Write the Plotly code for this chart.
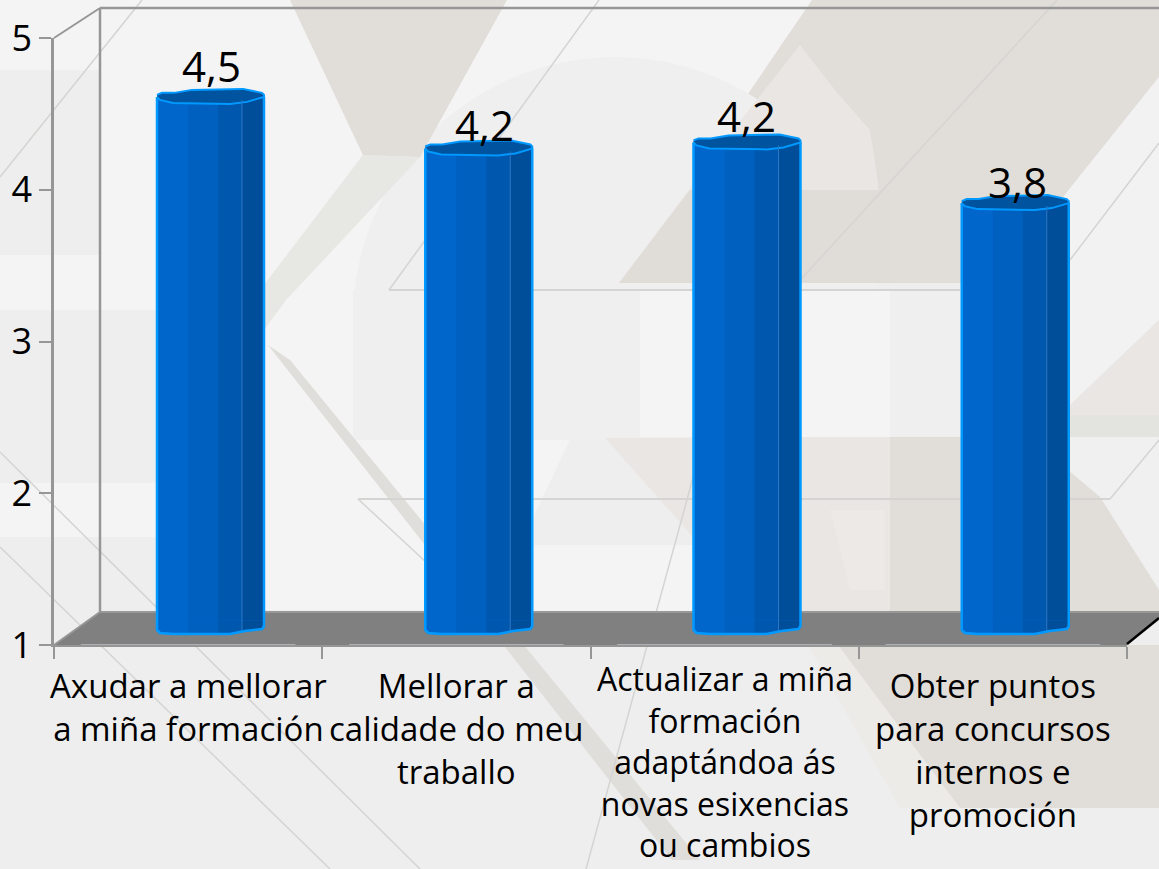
import numpy as np
import plotly.graph_objects as go

# ---- data ----
categories = [
    ["Axudar a mellorar", "a miña formación"],
    ["Mellorar a", "calidade do meu", "traballo"],
    ["Actualizar a miña", "formación", "adaptándoa ás", "novas esixencias", "ou cambios"],
    ["Obter puntos", "para concursos", "internos e", "promoción"],
]
values = [4.5, 4.16, 4.2, 3.8]
value_labels = ["4,5", "4,2", "4,2", "3,8"]
y_ticks = [1, 2, 3, 4, 5]

# ---- canvas geometry (style, not data) ----
W, H = 1159, 869
X0, X1 = 54, 1127          # front plane of the x axis
Y1, Y5 = 645, 38           # front plane of the y axis
BY1, BY5 = 628, 21         # plane on which the bars stand
CAT = (X1 - X0) / 4
UNIT = (Y1 - Y5) / 4


def fx(x):
    return x / W


def fy(y):
    return 1 - y / H


def poly(points, fill, line=None, lw=0, layer="below"):
    path = "M" + " L".join(f"{fx(x):.5f},{fy(y):.5f}" for x, y in points) + " Z"
    return dict(type="path", xref="paper", yref="paper", path=path, fillcolor=fill,
                line=dict(color=line or fill, width=lw), layer=layer)


def seg(x0, y0, x1, y1, color, width=1.5, layer="below"):
    return dict(type="line", xref="paper", yref="paper", x0=fx(x0), y0=fy(y0), x1=fx(x1), y1=fy(y1),
                line=dict(color=color, width=width), layer=layer)


def rect(x0, y0, x1, y1, fill):
    return poly([(x0, y0), (x1, y0), (x1, y1), (x0, y1)], fill)


BEIGE = "#e1ddd9"
SOFT = "#e9e6e3"
LIGHT = "#f4f4f4"
BASE = "#eeeeee"
MID = "#efefef"
THIN = "#d4d4d2"

shapes = [
    # horizontal light bands
    rect(0, 0, 1159, 70, LIGHT),
    rect(0, 255, 360, 310, LIGHT),
    rect(0, 483, 300, 537, LIGHT),
    # big light diamond behind the first bars
    poly([(100, 0), (290, 0), (363, 155), (262, 310), (100, 310)], LIGHT),
    # light strip
    poly([(507, 0), (822, 0), (640, 290), (490, 610), (264, 610), (264, 300)], LIGHT),
    # beige, top right
    poly([(812, 0), (1159, 0), (1159, 77), (1063, 197), (1000, 283), (619, 283)], BEIGE),
    # ring and what lies inside it
    poly([(615 + 262 * np.cos(a), 319 - 262 * np.sin(a)) for a in np.linspace(0, np.pi, 40)], MID),
    poly([(619, 283), (745, 115), (800, 45), (835, 90), (870, 130), (877, 175), (890, 283)], SOFT),
    poly([(619, 283), (690, 190), (890, 190), (890, 283)], "#e0dcd8"),
    # beige wedge, top centre, and the narrow strip that continues it
    poly([(290, 0), (507, 0), (420, 157), (363, 155)], BEIGE),
    poly([(363, 155), (420, 157), (286, 300), (264, 330), (264, 285)], "#e7e7e3"),
    # middle band
    rect(353, 290, 640, 440, MID),
    rect(640, 290, 890, 437, LIGHT),
    rect(890, 290, 965, 437, MID),
    poly([(1063, 197), (1159, 77), (1159, 320), (1070, 405)], "#f2f2f2"),
    poly([(1070, 405), (1159, 320), (1159, 415), (1070, 415)], SOFT),
    rect(1070, 415, 1159, 437, "#e3e4df"),
    # lower centre and right
    rect(534, 545, 693, 612, LIGHT),
    poly([(605, 438), (800, 438), (800, 612), (760, 612)], SOFT),
    rect(800, 437, 890, 612, SOFT),
    rect(890, 437, 1159, 612, BEIGE),
    poly([(830, 510), (885, 510), (885, 590), (850, 590)], "#ece9e6"),
    poly([(1068, 437), (1159, 437), (1159, 590), (1100, 497), (1068, 470)], "#f0f0f0"),
    # below the floor, right
    poly([(808, 645), (840, 645), (960, 808), (900, 808)], "#ecebe8"),
    poly([(838, 645), (1159, 645), (1159, 808), (960, 808)], BEIGE),
    # diagonal strip
    poly([(268, 345), (290, 360), (700, 860), (672, 860)], "#dfdeda"),
    # thin decorative lines
    seg(599, 0, 389, 290, THIN),
    seg(389, 290, 960, 290, THIN, 2),
    seg(1057, 0, 803, 277, THIN),
    seg(803, 277, 760, 340, THIN),
    seg(1159, 143, 1070, 260, THIN),
    seg(358, 499, 1110, 499, THIN, 2),
    seg(358, 499, 427, 563, THIN),
    seg(1110, 499, 1159, 440, THIN),
    seg(142, 0, 0, 177, THIN),
    seg(0, 452, 420, 869, THIN),
    seg(0, 547, 330, 869, THIN),
    seg(697, 463, 586, 869, THIN),
    # floor and walls
    poly([(54, 645), (100, 612), (1159, 612), (1159, 620), (1127, 645)], "#808080"),
    seg(100, 612, 1159, 612, "#989898", 2),
    seg(54, 645, 100, 612, "#969696", 2),
    seg(100, 8, 100, 612, "#969696", 2.5),
    seg(100, 8, 1159, 8, "#969696", 2.5),
    seg(54, 38, 100, 8, "#969696", 2),
    seg(1127, 644, 1159, 618, "#000000", 2.5, "above"),
]

STRIPES = [(0, "#0066cc"), (31, "#0060bf"), (61, "#0057ae"), (85, "#004d99")]
BAR_RIGHT = 107
BAR_LEFT = 157 - (X0 + CAT / 2)
LID_UPPER = [(0, -2), (5, -4), (17, -4), (35, -7), (86, -8), (105, -4), (107, -2)]
LID_LOWER = [(107, 0), (90, 5), (73, 7), (16, 6), (3, 3), (0, 0)]
FOOT = [(0, 2), (3, 5), (16, 6), (73, 6), (88, 3), (105, 1), (107, -2)]


def dx(px):
    return (BAR_LEFT + px) / CAT


def dv(py):
    return -py / UNIT


fig = go.Figure()

# hidden trace that gives the category axis its four slots and tick marks
fig.add_trace(go.Bar(x=[" ".join(c) for c in categories], y=[0, 0, 0, 0], base=1,
                     marker_color="rgba(0,0,0,0)", xaxis="x", yaxis="y", hoverinfo="skip"))

xpos = list(range(len(values)))
for a, col in STRIPES:
    # each stripe runs to the right edge, the next one paints over it: no seams
    fig.add_trace(go.Bar(x=xpos, y=[v - 1 for v in values], base=1, width=(BAR_RIGHT - a) / CAT, offset=dx(a),
                         marker=dict(color=col, line_width=0), xaxis="x2", yaxis="y2", hoverinfo="skip"))
    foot = [(a, float(np.interp(a, [p[0] for p in FOOT], [p[1] for p in FOOT])))] + [p for p in FOOT if p[0] > a]
    xs, ys = [], []
    for i in xpos:
        xs += [i + dx(a)] + [i + dx(p[0]) for p in foot] + [i + dx(BAR_RIGHT), None]
        ys += [1.05] + [1 + dv(p[1]) for p in foot] + [1.05, None]
    fig.add_trace(go.Scatter(x=xs, y=ys, mode="lines", fill="toself", fillcolor=col, line=dict(width=0, color=col),
                             xaxis="x2", yaxis="y2", hoverinfo="skip"))

# lid, outline and edge, all derived from the values
for i, v in enumerate(values):
    lid = LID_UPPER + LID_LOWER
    fig.add_trace(go.Scatter(x=[i + dx(p[0]) for p in lid], y=[v + dv(p[1]) for p in lid], mode="lines",
                             fill="toself", fillcolor="#00539f", line=dict(color="#0099ff", width=2),
                             xaxis="x2", yaxis="y2", hoverinfo="skip"))
    fig.add_trace(go.Scatter(x=[i + dx(85), i + dx(85)], y=[1 + dv(3), v + dv(3)], mode="lines",
                             line=dict(color="#2d78c6", width=1), xaxis="x2", yaxis="y2", hoverinfo="skip"))
    ox = [dx(0)] + [dx(p[0]) for p in FOOT] + [dx(BAR_RIGHT)]
    oy = [v] + [1 + dv(p[1]) for p in FOOT] + [v]
    fig.add_trace(go.Scatter(x=[i + q for q in ox], y=oy, mode="lines", line=dict(color="#0099ff", width=2.5),
                             xaxis="x2", yaxis="y2", hoverinfo="skip"))

annotations = []
label_shift = [(54, 31), (59, 24), (53, 27), (56, 22)]
label_font = dict(family="Open Sans", size=42, color="#000000")
for i, (v, t) in enumerate(zip(values, value_labels)):
    annotations.append(dict(text=t, xref="x2", yref="y2", x=i + dx(label_shift[i][0]), y=v,
                            yshift=label_shift[i][1], showarrow=False, font=label_font,
                            xanchor="center", yanchor="middle"))

# one text block per category; 33 px gives the 43 px line pitch, the five-line block is a touch smaller to fit the page
for i, lines in enumerate(categories):
    five = len(lines) >= 5
    annotations.append(dict(text="<br>".join(lines), xref="x2", yref="y", x=i, y=1, yshift=Y1 - (655 if five else 661),
                            showarrow=False, align="center", xanchor="center", yanchor="top",
                            font=dict(family="Open Sans", size=32 if five else 33, color="#000000")))

fig.update_layout(
    width=W, height=H, margin=dict(l=0, r=0, t=0, b=0, pad=0, autoexpand=False), showlegend=False, barmode="overlay",
    paper_bgcolor=BASE, plot_bgcolor="rgba(0,0,0,0)", hovermode=False,
    shapes=shapes, annotations=annotations,
    xaxis=dict(domain=[fx(X0), fx(X1)], type="category", range=[-0.5, 3.5], tickson="boundaries", ticks="outside",
               ticklen=12, tickwidth=2, tickcolor="#969696", showticklabels=False, showgrid=False, zeroline=False,
               showline=True, linecolor="#969696", linewidth=2, anchor="y", fixedrange=True, automargin=False),
    yaxis=dict(domain=[fy(Y1), fy(Y5)], range=[1, 5], tickvals=y_ticks, ticks="outside", ticklen=12, tickwidth=2,
               tickcolor="#969696", showgrid=False, zeroline=False, showline=True, linecolor="#969696", linewidth=2.5,
               tickfont=dict(family="Open Sans", size=36, color="#000000"), anchor="x", fixedrange=True, automargin=False),
    xaxis2=dict(domain=[fx(X0), fx(X1)], range=[-0.5, 3.5], visible=False, anchor="y2", fixedrange=True, automargin=False),
    yaxis2=dict(domain=[fy(Y1), fy(BY5)], range=[1 - (Y1 - BY1) / UNIT, 5], visible=False, anchor="x2", fixedrange=True,
                automargin=False),
)

fig.write_html("out.html", config={"displayModeBar": False},
               post_script="document.body.style.margin='0';document.body.style.overflow='hidden';")
